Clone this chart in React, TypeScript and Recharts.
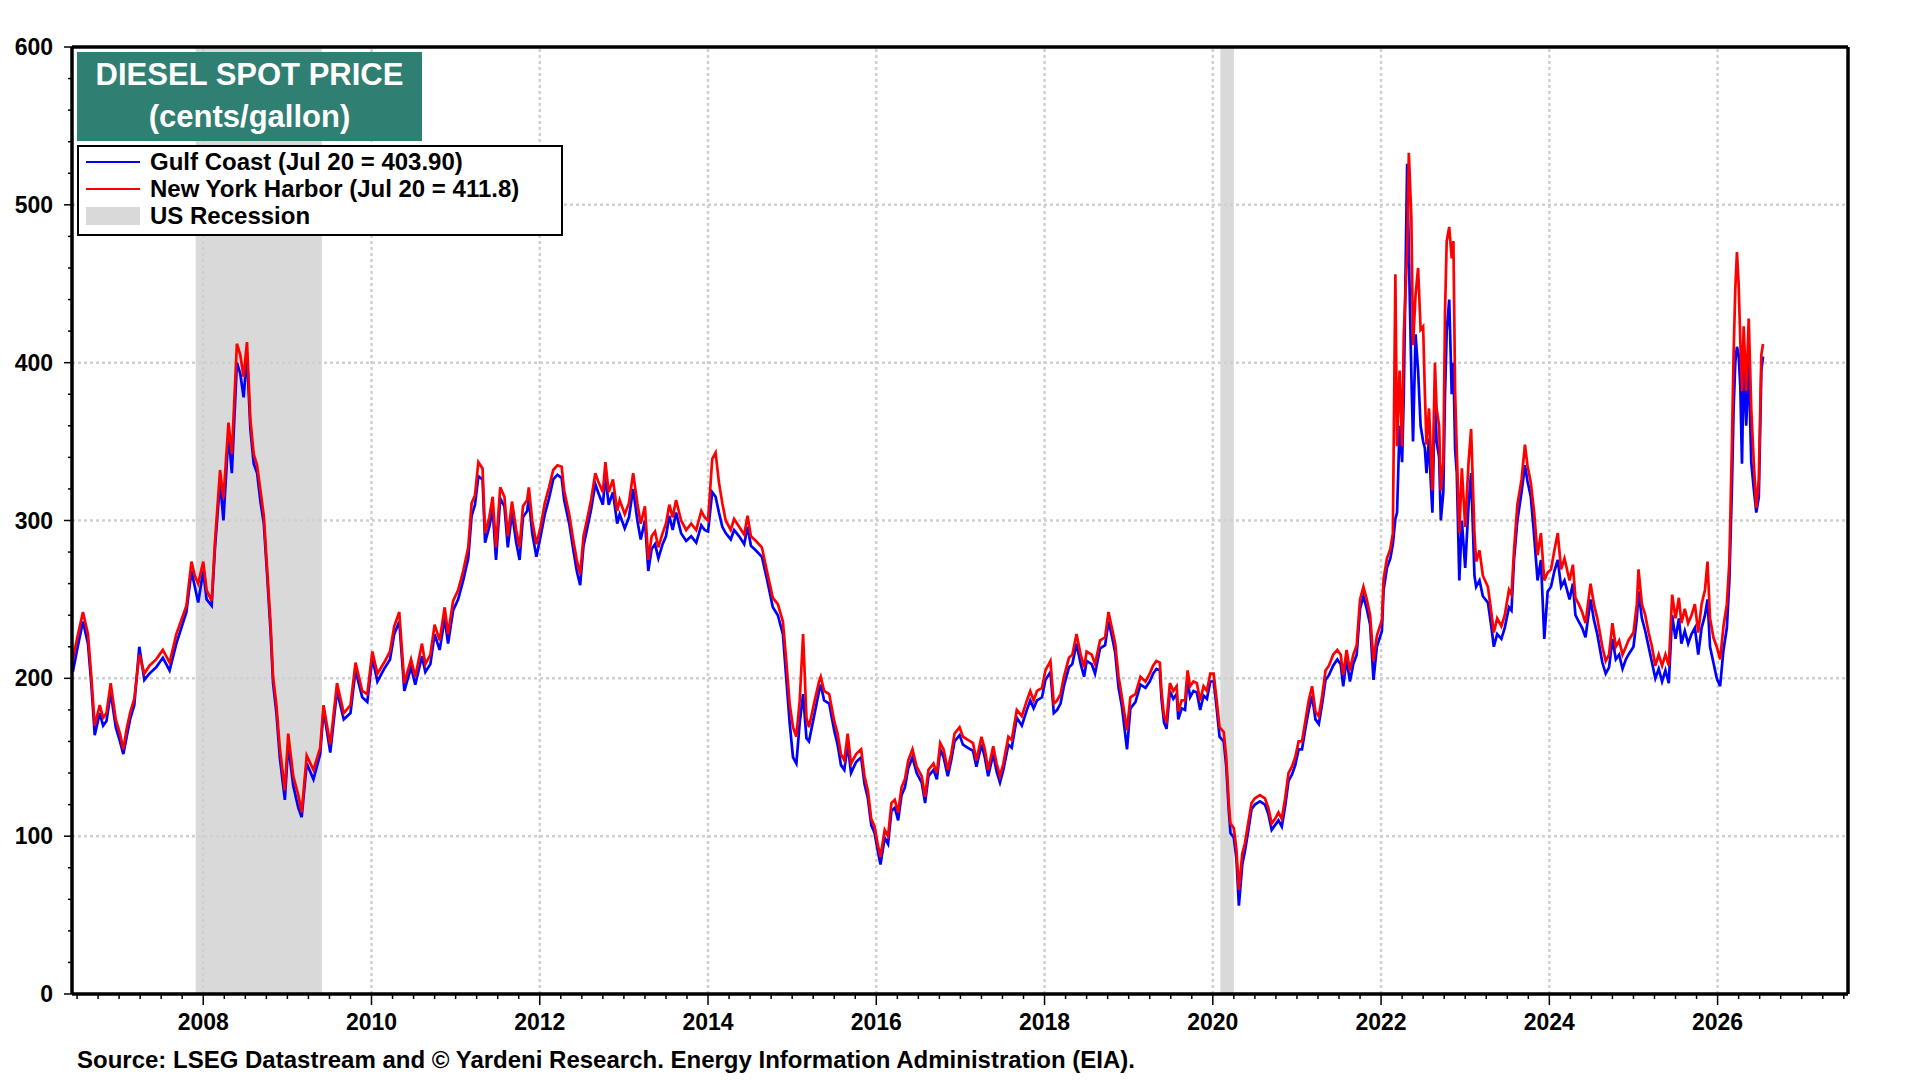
import React from "react";
import { LineChart, Line, XAxis, YAxis, ReferenceArea, ReferenceLine } from "recharts";

// Decimal-year dates, roughly two to three readings per month
const dates = [
  2006.45, 2006.5, 2006.57, 2006.63, 2006.67, 2006.71, 2006.77, 2006.81, 2006.85, 2006.9, 2006.96,
  2007.01, 2007.05, 2007.09, 2007.13, 2007.18, 2007.24, 2007.3, 2007.36, 2007.44, 2007.52, 2007.6, 2007.68, 2007.74, 2007.8, 2007.86, 2007.9, 2007.94,
  2008.0, 2008.04, 2008.1, 2008.14, 2008.2, 2008.24, 2008.3, 2008.34, 2008.4, 2008.44, 2008.48, 2008.52, 2008.56, 2008.6, 2008.64, 2008.68, 2008.72, 2008.76, 2008.8, 2008.83, 2008.87, 2008.91, 2008.97,
  2009.01, 2009.07, 2009.13, 2009.17, 2009.23, 2009.31, 2009.39, 2009.43, 2009.51, 2009.59, 2009.67, 2009.75, 2009.81, 2009.89, 2009.95,
  2010.01, 2010.07, 2010.15, 2010.22, 2010.27, 2010.33, 2010.39, 2010.47, 2010.52, 2010.6, 2010.64, 2010.7, 2010.75, 2010.81, 2010.87, 2010.91, 2010.97,
  2011.03, 2011.09, 2011.15, 2011.19, 2011.23, 2011.27, 2011.32, 2011.35, 2011.4, 2011.44, 2011.48, 2011.53, 2011.58, 2011.62, 2011.67, 2011.72, 2011.76, 2011.8, 2011.85, 2011.87, 2011.91, 2011.96,
  2012.01, 2012.06, 2012.11, 2012.16, 2012.21, 2012.26, 2012.29, 2012.35, 2012.4, 2012.44, 2012.48, 2012.52, 2012.56, 2012.61, 2012.66, 2012.7, 2012.75, 2012.78, 2012.82, 2012.87, 2012.92, 2012.95,
  2013.01, 2013.06, 2013.11, 2013.16, 2013.2, 2013.25, 2013.29, 2013.33, 2013.37, 2013.41, 2013.46, 2013.5, 2013.54, 2013.58, 2013.62, 2013.68, 2013.74, 2013.8, 2013.86, 2013.92, 2013.96,
  2014.0, 2014.05, 2014.09, 2014.13, 2014.17, 2014.21, 2014.27, 2014.31, 2014.37, 2014.43, 2014.47, 2014.51, 2014.57, 2014.64, 2014.7, 2014.77, 2014.83, 2014.89, 2014.93, 2014.97,
  2015.01, 2015.05, 2015.09, 2015.13, 2015.17, 2015.2, 2015.26, 2015.32, 2015.34, 2015.38, 2015.44, 2015.5, 2015.54, 2015.58, 2015.62, 2015.66, 2015.7, 2015.76, 2015.82, 2015.86, 2015.9, 2015.94, 2015.98,
  2016.02, 2016.05, 2016.1, 2016.14, 2016.18, 2016.22, 2016.26, 2016.3, 2016.34, 2016.38, 2016.43, 2016.48, 2016.54, 2016.58, 2016.62, 2016.68, 2016.72, 2016.76, 2016.8, 2016.85, 2016.89, 2016.93, 2016.99,
  2017.03, 2017.09, 2017.15, 2017.19, 2017.25, 2017.29, 2017.33, 2017.39, 2017.43, 2017.47, 2017.51, 2017.57, 2017.61, 2017.67, 2017.73, 2017.79, 2017.83, 2017.87, 2017.91, 2017.97,
  2018.01, 2018.07, 2018.11, 2018.15, 2018.19, 2018.23, 2018.29, 2018.33, 2018.38, 2018.43, 2018.47, 2018.5, 2018.56, 2018.6, 2018.66, 2018.72, 2018.76, 2018.8, 2018.84, 2018.88, 2018.92, 2018.98,
  2019.02, 2019.08, 2019.14, 2019.2, 2019.25, 2019.29, 2019.33, 2019.37, 2019.39, 2019.42, 2019.45, 2019.49, 2019.53, 2019.57, 2019.59, 2019.63, 2019.67, 2019.7, 2019.73, 2019.77, 2019.81, 2019.85, 2019.89, 2019.93, 2019.97,
  2020.01, 2020.04, 2020.08, 2020.13, 2020.16, 2020.19, 2020.21, 2020.25, 2020.28, 2020.31, 2020.35, 2020.38, 2020.42, 2020.46, 2020.5, 2020.56, 2020.62, 2020.66, 2020.7, 2020.74, 2020.78, 2020.82, 2020.86, 2020.9, 2020.94, 2020.98,
  2021.02, 2021.06, 2021.1, 2021.14, 2021.18, 2021.22, 2021.26, 2021.3, 2021.34, 2021.38, 2021.43, 2021.48, 2021.52, 2021.55, 2021.59, 2021.63, 2021.67, 2021.71, 2021.75, 2021.79, 2021.83, 2021.87, 2021.91, 2021.95,
  2022.01, 2022.03, 2022.07, 2022.11, 2022.14, 2022.17, 2022.19, 2022.22, 2022.25, 2022.27, 2022.31, 2022.33, 2022.36, 2022.38, 2022.41, 2022.44, 2022.47, 2022.5, 2022.52, 2022.54, 2022.57, 2022.59, 2022.61, 2022.64, 2022.66, 2022.69, 2022.71, 2022.74, 2022.76, 2022.78, 2022.81, 2022.84, 2022.86, 2022.88, 2022.9, 2022.93, 2022.96,
  2023.0, 2023.04, 2023.07, 2023.11, 2023.13, 2023.17, 2023.21, 2023.27, 2023.31, 2023.34, 2023.38, 2023.43, 2023.47, 2023.52, 2023.55, 2023.58, 2023.62, 2023.67, 2023.71, 2023.74, 2023.78, 2023.82, 2023.86, 2023.9, 2023.94, 2023.98,
  2024.02, 2024.06, 2024.1, 2024.14, 2024.18, 2024.24, 2024.28, 2024.31, 2024.35, 2024.39, 2024.43, 2024.49, 2024.53, 2024.57, 2024.63, 2024.67, 2024.71, 2024.75, 2024.79, 2024.83, 2024.87, 2024.91, 2024.94,
  2025.0, 2025.04, 2025.06, 2025.1, 2025.14, 2025.18, 2025.22, 2025.26, 2025.3, 2025.34, 2025.38, 2025.42, 2025.46, 2025.5, 2025.54, 2025.57, 2025.61, 2025.65, 2025.69, 2025.73, 2025.77, 2025.81, 2025.85, 2025.88, 2025.91, 2025.95, 2025.99,
  2026.03, 2026.07, 2026.11, 2026.14, 2026.17, 2026.19, 2026.21, 2026.23, 2026.25, 2026.27, 2026.29, 2026.31, 2026.34, 2026.37, 2026.4, 2026.43, 2026.46, 2026.49, 2026.52, 2026.54,
];

// cents/gallon, one line per calendar year to keep the arrays aligned with dates
const gulfCoast = [
  204, 218, 236, 222, 196, 164, 178, 170, 173, 191, 169,
  160, 152, 163, 174, 183, 220, 199, 203, 207, 213, 205, 222, 232, 242, 268, 258, 248,
  268, 250, 246, 283, 325, 300, 355, 330, 400, 393, 378, 405, 358, 336, 330, 312, 298, 265, 230, 197, 178, 150, 123,
  158, 132, 118, 112, 146, 136, 152, 180, 153, 192, 174, 178, 205, 188, 185,
  213, 198, 206, 212, 228, 236, 192, 207, 196, 214, 204, 209, 228, 218, 238, 222, 243,
  250, 262, 276, 303, 310, 328, 326, 286, 296, 307, 275, 314, 309, 283, 305, 286, 275, 302, 306, 314, 292, 277,
  290, 304, 314, 326, 329, 327, 313, 298, 281, 268, 259, 284, 294, 307, 323, 317, 310, 328, 310, 318, 298, 304,
  295, 302, 320, 300, 288, 300, 268, 282, 285, 276, 285, 290, 303, 294, 305, 292, 287, 290, 286, 297, 294,
  293, 318, 315, 305, 296, 292, 288, 294, 290, 285, 296, 284, 281, 277, 263, 245, 240, 228, 200, 172,
  150, 146, 172, 190, 162, 160, 176, 192, 196, 186, 184, 167, 158, 145, 142, 158, 140, 147, 150, 133, 124, 107, 102,
  90, 82, 99, 95, 116, 118, 110, 126, 131, 143, 150, 140, 134, 121, 138, 142, 136, 155, 150, 138, 148, 160, 164,
  158, 156, 154, 144, 158, 150, 138, 152, 141, 134, 142, 158, 156, 175, 170, 180, 186, 181, 186, 188,
  199, 204, 178, 180, 184, 195, 207, 209, 222, 209, 201, 211, 209, 203, 219, 221, 236, 227, 216, 194, 182, 155,
  181, 185, 196, 194, 198, 203, 206, 205, 187, 172, 168, 192, 187, 190, 174, 181, 180, 199, 188, 192, 191, 180, 189, 187, 198,
  198, 184, 163, 160, 144, 116, 102, 99, 86, 56, 82, 90, 103, 117, 120, 122, 120, 114, 104, 107, 110, 106, 119, 135, 139, 145,
  155, 155, 168, 180, 189, 174, 171, 184, 199, 202, 208, 212, 209, 195, 212, 198, 209, 215, 244, 252, 244, 234, 199, 220,
  230, 256, 270, 276, 285, 301, 305, 360, 337, 380, 526, 470, 392, 350, 418, 395, 360, 350, 346, 330, 352, 325, 305, 380, 350, 340, 300, 318, 380, 420, 440, 380, 400, 345, 330, 262, 300,
  270, 310, 330, 265, 258, 262, 252, 248, 233, 220, 228, 225, 232, 245, 243, 275, 300, 318, 335, 325, 315, 290, 262, 275, 225, 255,
  258, 268, 275, 258, 262, 250, 260, 240, 236, 232, 226, 250, 237, 228, 210, 203, 207, 225, 212, 215, 206, 212, 215,
  220, 238, 255, 238, 230, 220, 210, 200, 206, 198, 205, 197, 240, 225, 238, 222, 230, 222, 228, 232, 215, 232, 240, 250, 220, 210, 200,
  195, 218, 232, 262, 320, 370, 400, 410, 405, 385, 336, 400, 360, 400, 337, 320, 305, 315, 395, 403.9,
];

const newYorkHarbor = [
  212, 225, 242, 228, 201, 170, 183, 175, 178, 197, 174,
  165, 155, 168, 178, 187, 215, 203, 208, 212, 218, 210, 228, 237, 246, 274, 265, 260,
  274, 256, 249, 287, 332, 314, 362, 342, 412, 405, 391, 413, 364, 342, 335, 319, 303, 269, 235, 201, 183, 156, 129,
  165, 138, 126, 115, 151, 142, 156, 183, 158, 197, 178, 183, 210, 192, 190,
  217, 203, 210, 217, 233, 242, 197, 212, 201, 222, 209, 215, 234, 224, 245, 228, 249,
  256, 268, 283, 311, 316, 337, 333, 292, 302, 315, 283, 321, 315, 290, 312, 294, 283, 309, 313, 321, 300, 285,
  296, 311, 321, 332, 335, 334, 319, 304, 287, 275, 266, 290, 300, 313, 330, 324, 318, 337, 318, 326, 306, 313,
  304, 311, 330, 311, 298, 309, 275, 290, 293, 283, 292, 298, 310, 302, 313, 300, 294, 298, 294, 306, 302,
  300, 339, 343, 324, 311, 300, 294, 301, 296, 291, 303, 290, 287, 283, 268, 251, 247, 236, 211, 184,
  169, 163, 186, 228, 175, 169, 184, 198, 201, 192, 190, 173, 165, 152, 148, 165, 146, 152, 155, 138, 129, 111, 106,
  94, 87, 104, 100, 121, 123, 115, 131, 136, 148, 155, 144, 138, 125, 142, 146, 140, 159, 155, 142, 152, 165, 169,
  163, 161, 159, 148, 163, 155, 142, 157, 146, 138, 146, 163, 161, 180, 176, 186, 192, 186, 192, 194,
  205, 211, 184, 186, 190, 201, 213, 215, 228, 215, 207, 217, 215, 209, 224, 226, 242, 232, 222, 201, 188, 167,
  188, 190, 201, 198, 203, 208, 211, 210, 192, 176, 173, 197, 192, 195, 179, 186, 186, 205, 195, 198, 197, 186, 195, 192, 203,
  203, 189, 169, 166, 150, 121, 108, 105, 92, 66, 89, 95, 108, 121, 124, 126, 124, 118, 108, 111, 115, 111, 124, 140, 144, 150,
  160, 160, 173, 186, 195, 179, 176, 189, 205, 208, 215, 218, 215, 202, 218, 205, 215, 221, 250, 258, 250, 240, 211, 227,
  237, 263, 276, 282, 292, 456, 347, 395, 347, 418, 470, 533, 492, 411, 443, 460, 421, 423, 382, 348, 371, 344, 319, 400, 371, 360, 319, 337, 432, 477, 486, 466, 477, 382, 344, 292, 333,
  296, 337, 358, 292, 274, 281, 265, 258, 242, 229, 238, 233, 240, 256, 253, 281, 310, 326, 348, 335, 324, 305, 278, 292, 262, 267,
  269, 281, 292, 269, 276, 262, 272, 251, 247, 242, 235, 260, 247, 238, 220, 211, 215, 235, 220, 224, 215, 220, 224,
  229, 247, 269, 247, 240, 229, 220, 208, 215, 208, 215, 208, 253, 238, 251, 235, 244, 235, 240, 247, 229, 247, 256, 274, 238, 226, 220,
  212, 233, 247, 274, 348, 405, 446, 470, 450, 414, 382, 423, 382, 428, 371, 337, 308, 326, 405, 411.8,
];

// NBER recessions (Dec 2007 - Jun 2009, Feb - Apr 2020)
const recessionStarts = [2007.91, 2020.09];
const recessionEnds = [2009.41, 2020.25];

const yearLabels = [2008, 2010, 2012, 2014, 2016, 2018, 2020, 2022, 2024, 2026];
const yLabels = [0, 100, 200, 300, 400, 500, 600];
const gridY = [100, 200, 300, 400, 500];

const X_MIN = 2006.44;
const X_MAX = 2027.55;
// quarterly minor ticks along the bottom, every 20 cents on the sides
const quarterTicks = Array.from({ length: 85 }, (_, i) => 2006.5 + i * 0.25);
const yTicks = Array.from({ length: 31 }, (_, i) => i * 20);

const FONT = '"Liberation Sans", Arial, Helvetica, sans-serif';
const TITLE_GREEN = "#2f7f72";
const RECESSION_GRAY = "#d9d9d9";
const GRID_GRAY = "#d0d0d0";

const rows = dates.map((date, i) => ({ date, gulf: gulfCoast[i], nyh: newYorkHarbor[i] }));

function XTick(props: any) {
  const { x, y, payload } = props;
  const v = payload.value as number;
  const labelled = yearLabels.includes(v);
  return (
    <g>
      <line x1={x} x2={x} y1={y} y2={y + (labelled ? 11 : 5)} stroke="#000" strokeWidth={1.5} />
      {labelled && (
        <text x={x} y={y + 36} textAnchor="middle" fontFamily={FONT} fontWeight="bold" fontSize={23} fill="#000">
          {v}
        </text>
      )}
    </g>
  );
}

function YTick(props: any) {
  const { x, y, payload, side } = props;
  const v = payload.value as number;
  const major = yLabels.includes(v);
  const dir = side === "left" ? -1 : 1;
  return (
    <g>
      <line x1={x} x2={x + dir * (major ? 8 : 4)} y1={y} y2={y} stroke="#000" strokeWidth={1.5} />
      {major && (
        <text
          x={x + dir * 19}
          y={y + 8}
          textAnchor={side === "left" ? "end" : "start"}
          fontFamily={FONT}
          fontWeight="bold"
          fontSize={23}
          fill="#000"
        >
          {v}
        </text>
      )}
    </g>
  );
}

const legendText: React.CSSProperties = {
  position: "absolute",
  left: 150,
  height: 28,
  lineHeight: "28px",
  fontFamily: FONT,
  fontWeight: "bold",
  fontSize: 24,
  color: "#000",
  whiteSpace: "nowrap",
};

export default function App() {
  return (
    <div style={{ position: "absolute", left: 0, top: 0, width: 1920, height: 1080, background: "#fff" }}>
      <LineChart width={1920} height={1080} data={rows} margin={{ top: 47, right: 0, bottom: 0, left: 0 }}>
        <XAxis
          dataKey="date"
          type="number"
          domain={[X_MIN, X_MAX]}
          allowDataOverflow
          ticks={quarterTicks}
          interval={0}
          tick={<XTick />}
          tickLine={false}
          tickSize={0}
          tickMargin={0}
          height={86}
          axisLine={{ stroke: "#000", strokeWidth: 3.5 }}
        />
        <YAxis
          yAxisId="left"
          domain={[0, 600]}
          ticks={yTicks}
          interval={0}
          width={72}
          tick={<YTick side="left" />}
          tickLine={false}
          tickSize={0}
          tickMargin={0}
          axisLine={{ stroke: "#000", strokeWidth: 3.5 }}
        />
        <YAxis
          yAxisId="right"
          orientation="right"
          domain={[0, 600]}
          ticks={yTicks}
          interval={0}
          width={72}
          tick={<YTick side="right" />}
          tickLine={false}
          tickSize={0}
          tickMargin={0}
          axisLine={{ stroke: "#000", strokeWidth: 3.5 }}
        />
        {recessionStarts.map((start, i) => (
          <ReferenceArea
            key={`rec-${start}`}
            yAxisId="left"
            x1={start}
            x2={recessionEnds[i]}
            y1={0}
            y2={600}
            fill={RECESSION_GRAY}
            fillOpacity={1}
            stroke="none"
            zIndex={-150}
          />
        ))}
        {yearLabels.map((yr) => (
          <ReferenceLine
            key={`gx-${yr}`}
            yAxisId="left"
            x={yr}
            stroke={GRID_GRAY}
            strokeWidth={2.5}
            strokeDasharray="3 3"
            zIndex={-100}
          />
        ))}
        {gridY.map((v) => (
          <ReferenceLine
            key={`gy-${v}`}
            yAxisId="left"
            y={v}
            stroke={GRID_GRAY}
            strokeWidth={2.5}
            strokeDasharray="3 3"
            zIndex={-100}
          />
        ))}
        <Line
          yAxisId="left"
          dataKey="gulf"
          type="linear"
          stroke="#0000ff"
          strokeWidth={2.7}
          dot={false}
          isAnimationActive={false}
        />
        <Line
          yAxisId="left"
          dataKey="nyh"
          type="linear"
          stroke="#ff0000"
          strokeWidth={2.7}
          dot={false}
          isAnimationActive={false}
        />
        <ReferenceLine yAxisId="left" y={600} stroke="#000" strokeWidth={3.5} zIndex={500} />
      </LineChart>

      {/* title block */}
      <div
        style={{
          position: "absolute",
          left: 77,
          top: 52,
          width: 345,
          height: 89,
          background: TITLE_GREEN,
          color: "#fff",
          fontFamily: FONT,
          fontWeight: "bold",
          fontSize: 31,
          lineHeight: "42px",
          textAlign: "center",
          paddingTop: 2,
          boxSizing: "border-box",
          whiteSpace: "nowrap",
        }}
      >
        <div>DIESEL SPOT PRICE</div>
        <div>(cents/gallon)</div>
      </div>

      {/* legend */}
      <div
        style={{
          position: "absolute",
          left: 77,
          top: 145,
          width: 486,
          height: 91,
          border: "2.5px solid #000",
          boxSizing: "border-box",
          background: "#fff",
        }}
      />
      <div style={{ position: "absolute", left: 86, top: 161, width: 54, height: 2, background: "#0000ff" }} />
      <div style={{ position: "absolute", left: 86, top: 188, width: 54, height: 2, background: "#ff0000" }} />
      <div style={{ position: "absolute", left: 86, top: 207, width: 54, height: 18, background: RECESSION_GRAY }} />
      <div style={{ ...legendText, top: 148 }}>Gulf Coast (Jul 20 = 403.90)</div>
      <div style={{ ...legendText, top: 175 }}>New York Harbor (Jul 20 = 411.8)</div>
      <div style={{ ...legendText, top: 202 }}>US Recession</div>

      <div
        style={{
          position: "absolute",
          left: 77,
          top: 1046,
          height: 28,
          lineHeight: "28px",
          fontFamily: FONT,
          fontWeight: "bold",
          fontSize: 24,
          color: "#000",
          whiteSpace: "nowrap",
        }}
      >
        Source: LSEG Datastream and © Yardeni Research. Energy Information Administration (EIA).
      </div>
    </div>
  );
}
